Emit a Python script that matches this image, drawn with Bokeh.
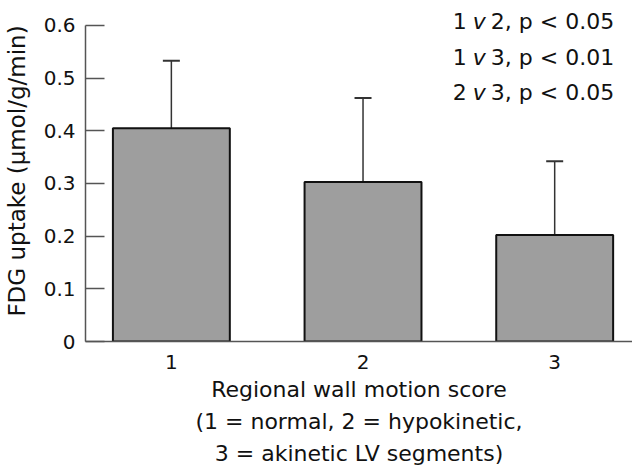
from bokeh.plotting import figure
from bokeh.models import Range1d, FixedTicker, Whisker, ColumnDataSource, Label, TeeHead
from bokeh.embed import file_html
from bokeh.resources import INLINE

# ---- data ----
scores = [1, 2, 3]
uptake = [0.405, 0.303, 0.202]
sd = [0.128, 0.159, 0.140]
y_ticks = [0, 0.1, 0.2, 0.3, 0.4, 0.5, 0.6]
y_tick_labels = ["0", "0.1", "0.2", "0.3", "0.4", "0.5", "0.6"]
stats_pre = ["1", "1", "2"]
stats_post = ["2, p < 0.05", "3, p < 0.01", "3, p  < 0.05"]

FONT = "DejaVu Sans"

upper = [u + s for u, s in zip(uptake, sd)]
src = ColumnDataSource(dict(x=scores, top=uptake, upper=upper))

p = figure(width=632, height=468, output_backend="svg", toolbar_location=None,
           x_range=Range1d(0.552, 3.406), y_range=Range1d(0, 0.6473),
           min_border_left=84, min_border_right=0, min_border_top=0,
           min_border_bottom=126)
p.outline_line_color = None
p.xgrid.visible = False
p.ygrid.visible = False

p.vbar(x="x", top="top", width=0.61, source=src, fill_color="#9e9e9e",
       line_color="#111111", line_width=2)

w = Whisker(source=src, base="x", lower="top", upper="upper",
            line_color="#333333", line_width=1.5,
            upper_head=TeeHead(size=17, line_color="#333333", line_width=2),
            lower_head=None)
p.add_layout(w)

# y axis
ya = p.yaxis[0]
ya.ticker = FixedTicker(ticks=y_ticks)
ya.major_label_overrides = {t: l for t, l in zip(y_ticks, y_tick_labels)}
ya.bounds = (0, 0.6)
ya.minor_tick_line_color = None
ya.major_tick_in = 19
ya.major_tick_out = 0
ya.major_tick_line_color = "#555555"
ya.major_tick_line_width = 1.5
ya.axis_line_color = "#555555"
ya.axis_line_width = 1.5
ya.major_label_text_font = FONT
ya.major_label_text_font_size = "20px"
ya.major_label_text_color = "#111111"
ya.major_label_standoff = 10
ya.axis_label = "FDG uptake (\u03bcmol/g/min)"
ya.axis_label_text_font = FONT
ya.axis_label_text_font_size = "23px"
ya.axis_label_text_font_style = "normal"
ya.axis_label_text_color = "#111111"
ya.axis_label_standoff = 11

# x axis
xa = p.xaxis[0]
xa.ticker = FixedTicker(ticks=scores)
xa.minor_tick_line_color = None
xa.major_tick_line_color = None
xa.axis_line_color = "#555555"
xa.axis_line_width = 1.5
xa.major_label_text_font = FONT
xa.major_label_text_font_size = "20px"
xa.major_label_text_color = "#111111"
xa.major_label_standoff = 7
xa.axis_label = ("Regional wall motion score\n(1 = normal, 2 = hypokinetic,\n"
                 "3 = akinetic LV segments)")
xa.axis_label_text_font = FONT
xa.axis_label_text_font_size = "22px"
xa.axis_label_text_font_style = "normal"
xa.axis_label_text_color = "#111111"
xa.axis_label_text_line_height = 1.28
xa.axis_label_standoff = 5

# statistics annotation
ys = [0.608, 0.540, 0.473]
for pre, post, yy in zip(stats_pre, stats_post, ys):
    common = dict(x=2.46875, y=yy, text_font=FONT, text_font_size="22px",
                  text_color="#111111", text_baseline="alphabetic")
    p.add_layout(Label(text=pre, **common))
    p.add_layout(Label(text="v", x_offset=20, text_font_style="italic", **common))
    p.add_layout(Label(text=post, x_offset=38, **common))

open("out.html", "w").write(file_html(p, INLINE))
